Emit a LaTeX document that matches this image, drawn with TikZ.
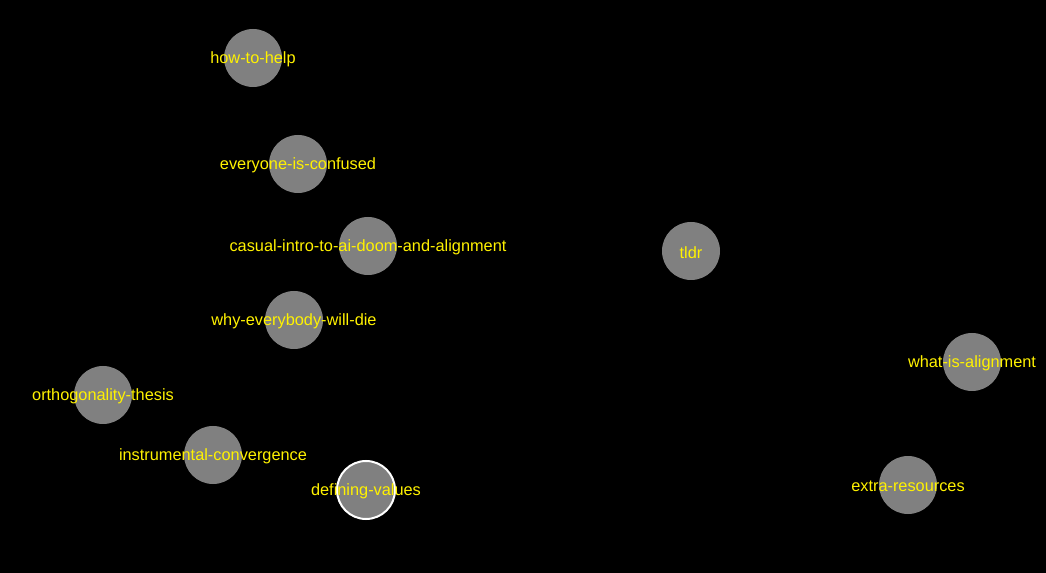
\documentclass[tikz,border=0pt]{standalone}
\usepackage{fontspec}
\setmainfont{Liberation Sans}
\begin{document}
\begin{tikzpicture}[
    x=0.75pt, y=-0.75pt,
    topic/.style={circle, fill=gray, minimum size=43.5pt, inner sep=0pt},
    current/.style={topic, draw=white, line width=1.5pt},
    topictext/.style={text=yellow, font=\fontsize{12.25}{14}\selectfont, inner sep=0pt, yshift=-1.2pt}
]

% Background
\fill[black] (0,0) rectangle (1046,573);
\useasboundingbox (0,0) rectangle (1046,573);

% Topic circles
\node[topic] (help) at (253,58) {};
\node[topic] (confused) at (298,164) {};
\node[topic] (intro) at (368,246) {};
\node[topic] (tldr) at (691,251) {};
\node[topic] (die) at (294,320) {};
\node[topic] (alignment) at (972,362) {};
\node[topic] (orthogonality) at (103,395) {};
\node[topic] (convergence) at (213,455) {};
\node[current] (values) at (366,490) {};
\node[topic] (resources) at (908,485) {};

% Labels
\node[topictext] at (help) {how-to-help};
\node[topictext] at (confused) {everyone-is-confused};
\node[topictext] at (intro) {casual-intro-to-ai-doom-and-alignment};
\node[topictext] at (tldr) {tldr};
\node[topictext] at (die) {why-everybody-will-die};
\node[topictext] at (alignment) {what-is-alignment};
\node[topictext] at (orthogonality) {orthogonality-thesis};
\node[topictext] at (convergence) {instrumental-convergence};
\node[topictext] at (values) {defining-values};
\node[topictext] at (resources) {extra-resources};

\end{tikzpicture}
\end{document}
